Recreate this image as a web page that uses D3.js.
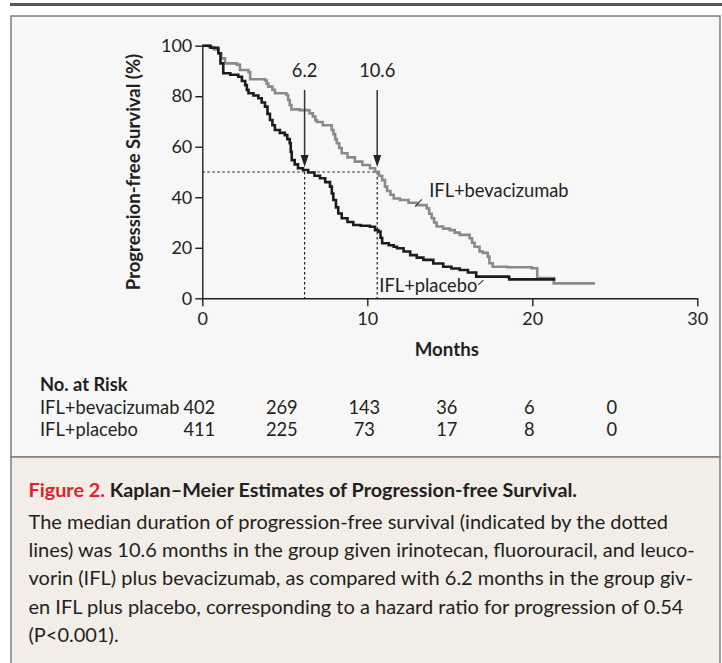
<!DOCTYPE html>
<html><head><meta charset="utf-8">
<script src="https://cdn.jsdelivr.net/npm/d3@7"></script>
<style>
body{margin:0;background:#fff}
svg{display:block}
text{font-family:Lato,"Open Sans",sans-serif;fill:#231f20}
</style>
</head><body>
<svg id="c" width="722" height="663"></svg>
<script>
// ---------- data ----------
const xTicks = [0, 10, 20, 30];
const yTicks = [0, 20, 40, 60, 80, 100];

const bevTime = [0,0.4,0.7,0.97,1.15,1.38,2.1,2.28,2.8,2.9,3.8,3.9,4.0,4.25,4.4,5.1,5.2,5.3,5.4,5.9,6.5,6.7,6.85,6.95,7.3,7.84,7.95,8.05,8.15,8.3,8.45,8.8,9.25,9.7,10.16,10.47,10.7,10.9,11.07,11.2,11.4,11.6,11.98,12.5,13.0,13.6,13.75,13.9,14.05,14.2,14.6,15.0,15.3,15.6,16.2,16.35,16.5,16.8,17.0,17.3,17.4,17.6,18.5,19.96,20.3,21.3,23.8];
const bevSurv = [100,99.5,98.5,97,95,93,92.5,90.4,89.5,86.7,86.2,85,83.8,82.5,81.2,80.5,78.5,76.5,74.8,74.5,73.2,72,70.5,69.8,68.5,66.6,65,63,61.4,59.5,57.4,55.8,54.1,52.8,51.5,50.1,48.5,46.8,44.2,42.5,41,39.5,38.9,37.8,36.9,35.6,33.5,31.7,30,28.4,27.6,27,26,25.1,23.8,22,20.4,18.5,18.0,16.5,13.9,12.5,12.3,11.9,8.0,5.9,5.9];

const plaTime = [0,0.5,0.97,1.1,1.27,1.7,2.18,2.4,2.6,2.7,2.8,3.1,3.4,3.6,3.8,3.95,4.1,4.25,4.4,4.7,5.0,5.15,5.3,5.36,5.42,5.6,5.8,6.1,6.42,6.8,7.13,7.45,7.74,7.85,7.94,8.1,8.24,8.45,8.8,9.15,9.6,10.16,10.47,10.67,10.8,10.9,11.3,11.6,11.8,12.2,12.6,13.0,13.4,14.0,14.6,15.1,15.6,16.1,16.6,18.5,18.6,21.4];
const plaSurv = [100,99.2,97,93,89.1,88.5,87.7,86,84.4,82.5,81.2,80.3,79.2,77.5,75.9,73,70.6,68.5,66.6,65.5,64.6,63,61.4,58,54.7,53,51.5,50.8,49.8,48.5,47.5,46,44.2,41.5,38.9,36,33.6,31.7,30.2,29,28.7,28.3,27,26.4,24,21.8,21,20.4,19.8,18.5,17.1,16.1,15.2,13.8,12.5,11.8,11.2,10.2,8.6,8.5,7.5,7.5];

const medians = [6.2, 10.6];
const medianLabels = ["6.2", "10.6"];

const groups = ["IFL+bevacizumab", "IFL+placebo"];
const riskMonths = [0, 5, 10, 15, 20, 25];
const riskBev = [402, 269, 143, 36, 6, 0];
const riskPla = [411, 225, 73, 17, 8, 0];

const captionHead = "Figure 2.";
const captionTitle = " Kaplan\u2013Meier Estimates of Progression-free Survival.";
const captionLines = [
  "The median duration of progression-free survival (indicated by the dotted",
  "lines) was 10.6 months in the group given irinotecan, fluorouracil, and leuco-",
  "vorin (IFL) plus bevacizumab, as compared with 6.2 months in the group giv-",
  "en IFL plus placebo, corresponding to a hazard ratio for progression of 0.54",
  "(P<0.001)."
];

// ---------- drawing ----------
const svg = d3.select("#c");
const ink = "#231f20";
const fs = 18.3;

// frame
svg.append("rect").attr("x",10).attr("y",3).attr("width",712).attr("height",3).attr("fill","#555");
svg.append("rect").attr("x",11).attr("y",16).attr("width",709).attr("height",441)
  .attr("fill","#f7f7f7").attr("stroke","#7d7d7d").attr("stroke-width",1.5);
svg.append("rect").attr("x",11).attr("y",457).attr("width",709).attr("height",210)
  .attr("fill","#f2ede7").attr("stroke","#7d7d7d").attr("stroke-width",1.5);

const x = d3.scaleLinear().domain([0,30]).range([202.3,697.3]);
const y = d3.scaleLinear().domain([0,100]).range([298.3,45.7]);

// axes
const gx = svg.append("g").attr("transform",`translate(0,${y(0)})`)
  .call(d3.axisBottom(x).tickValues(xTicks).tickSize(8).tickSizeOuter(0).tickPadding(6).tickFormat(d3.format("d")));
const gy = svg.append("g").attr("transform",`translate(${x(0)},0)`)
  .call(d3.axisLeft(y).tickValues(yTicks).tickSize(7).tickSizeOuter(0).tickPadding(3).tickFormat(d3.format("d")));
[gx,gy].forEach(g=>{
  g.selectAll("path,line").attr("stroke",ink).attr("stroke-width",1.4);
  g.selectAll("text").attr("font-size",18).attr("fill",ink).style("font-family","Lato");
});

// axis titles
svg.append("text").attr("x",x(15)-3).attr("y",356).attr("text-anchor","middle")
  .attr("font-size",18.7).attr("font-weight","bold").text("Months");
svg.append("text").attr("transform",`translate(140,${(y(0)+y(100))/2}) rotate(-90)`)
  .attr("text-anchor","middle").attr("font-size",18.5).attr("font-weight","bold")
  .text("Progression-free Survival (%)");

// dotted median lines
const dot = svg.append("g").attr("stroke",ink).attr("stroke-width",1.2).attr("stroke-dasharray","2.5,2.5").attr("fill","none");
dot.append("line").attr("x1",x(0)).attr("x2",x(d3.max(medians))).attr("y1",y(50)).attr("y2",y(50));
medians.forEach(m=>{
  dot.append("line").attr("x1",x(m)).attr("x2",x(m)).attr("y1",y(50)).attr("y2",y(0));
});

// curves
const line = d3.line().curve(d3.curveStepAfter).x(d=>x(d[0])).y(d=>y(d[1]));
const bev = bevTime.map((t,i)=>[t,bevSurv[i]]);
const pla = plaTime.map((t,i)=>[t,plaSurv[i]]);
svg.append("path").datum(bev).attr("d",line).attr("fill","none").attr("stroke","#8a8a8a").attr("stroke-width",2.6);
svg.append("path").datum(pla).attr("d",line).attr("fill","none").attr("stroke","#1c1c1c").attr("stroke-width",2.6);

// arrows + median labels
medians.forEach((m,i)=>{
  const xp = x(m);
  const tip = y(52);
  svg.append("line").attr("x1",xp).attr("x2",xp).attr("y1",y(82.5)).attr("y2",tip-10)
    .attr("stroke","#333").attr("stroke-width",1.5);
  svg.append("path").attr("d",`M${xp-4},${tip-12}L${xp+4},${tip-12}L${xp},${tip}Z`).attr("fill","#222");
  svg.append("text").attr("x",xp).attr("y",y(87.6)).attr("text-anchor","middle")
    .attr("font-size",fs).text(medianLabels[i]);
});

// curve labels with leaders
svg.append("line").attr("x1",x(12.9)).attr("y1",y(36.3)).attr("x2",x(13.3)).attr("y2",y(39.2))
  .attr("stroke","#333").attr("stroke-width",1.1);
svg.append("text").attr("x",x(13.75)).attr("y",y(40)).attr("font-size",fs).text(groups[0]);
svg.append("line").attr("x1",x(16.73)).attr("y1",y(5.3)).attr("x2",x(17.03)).attr("y2",y(7.2))
  .attr("stroke","#333").attr("stroke-width",1.1);
svg.append("text").attr("x",x(10.73)).attr("y",y(2.5)).attr("font-size",fs).text(groups[1]);

// number at risk table
svg.append("text").attr("x",40).attr("y",391).attr("font-size",fs).attr("font-weight","bold").text("No. at Risk");
[riskBev,riskPla].forEach((row,r)=>{
  const yy = 414 + r*22;
  svg.append("text").attr("x",40).attr("y",yy).attr("font-size",fs).text(groups[r]);
  svg.selectAll(null).data(row).enter().append("text")
    .attr("x",(d,i)=>x(riskMonths[i])-3).attr("y",yy).attr("text-anchor","middle")
    .attr("font-size",fs).text(d=>d);
});

// caption
const t = svg.append("text").attr("x",28.5).attr("y",497).attr("font-size",19.8).attr("font-weight","bold");
t.append("tspan").attr("fill","#e2232a").style("fill","#e2232a").text(captionHead);
t.append("tspan").text(captionTitle);
svg.selectAll(null).data(captionLines).enter().append("text")
  .attr("x",28.5).attr("y",(d,i)=>529+i*28.2).attr("font-size",20).text(d=>d);
</script>
</body></html>
